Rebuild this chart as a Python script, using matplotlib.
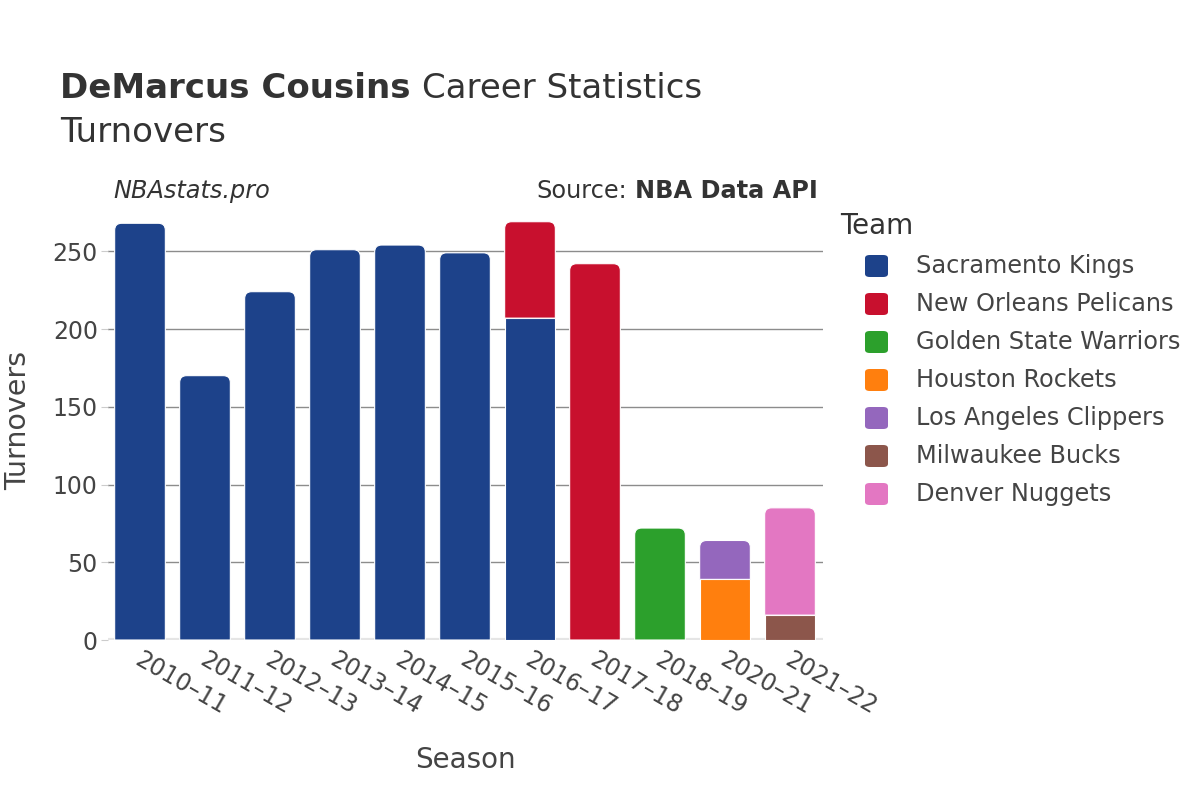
import matplotlib
matplotlib.use("Agg")
import matplotlib.pyplot as plt
from matplotlib.path import Path
from matplotlib.patches import PathPatch, FancyBboxPatch
from matplotlib.transforms import IdentityTransform
import numpy as np

seasons = ["2010–11", "2011–12", "2012–13", "2013–14", "2014–15", "2015–16",
           "2016–17", "2017–18", "2018–19", "2020–21", "2021–22"]
teams = ["Sacramento Kings", "New Orleans Pelicans", "Golden State Warriors",
         "Houston Rockets", "Los Angeles Clippers", "Milwaukee Bucks", "Denver Nuggets"]
colors = ["#1d428a", "#c8102e", "#2ca02c", "#ff7f0e", "#9467bd", "#8c564b", "#e377c2"]
values = {
    "Sacramento Kings":      [268, 170, 224, 251, 254, 249, 207, 0, 0, 0, 0],
    "New Orleans Pelicans":  [0, 0, 0, 0, 0, 0, 62, 242, 0, 0, 0],
    "Golden State Warriors": [0, 0, 0, 0, 0, 0, 0, 0, 72, 0, 0],
    "Houston Rockets":       [0, 0, 0, 0, 0, 0, 0, 0, 0, 39, 0],
    "Los Angeles Clippers":  [0, 0, 0, 0, 0, 0, 0, 0, 0, 25, 0],
    "Milwaukee Bucks":       [0, 0, 0, 0, 0, 0, 0, 0, 0, 0, 16],
    "Denver Nuggets":        [0, 0, 0, 0, 0, 0, 0, 0, 0, 0, 69],
}
yticks = [0, 50, 100, 150, 200, 250]

W, H, DPI = 1200, 800, 100
fig = plt.figure(figsize=(W / DPI, H / DPI), dpi=DPI)
fig.patch.set_facecolor("white")
renderer = fig.canvas.get_renderer()
ax = fig.add_axes([107.5 / W, 1 - 640 / H, 715 / W, 0.549])
x = np.arange(len(seasons))
totals = np.sum([values[t] for t in teams], axis=0)
ymax = totals.max() * 1.05
ax.set_xlim(-0.5, len(seasons) - 0.5)
ax.set_ylim(0, ymax)

for s in ax.spines.values():
    s.set_visible(False)
ax.set_yticks(yticks)
ax.yaxis.grid(True, color="#8c8c8c", linewidth=1)
ax.set_axisbelow(True)
ax.tick_params(axis="y", length=5, color="#cccccc", labelsize=17, labelcolor="#444444", pad=2)
ax.tick_params(axis="x", length=0, labelbottom=False)
ax.axhline(0, color="#e5e5e5", linewidth=3, zorder=1)

bw = 0.78
bottom = np.zeros(len(seasons))
segments = []
for t, c in zip(teams, colors):
    v = np.array(values[t], dtype=float)
    for i in range(len(seasons)):
        if v[i] > 0:
            segments.append((i, bottom[i], v[i], c))
    bottom += v

r = 7.0
top_idx = {}
for k, (i, b, h, c) in enumerate(segments):
    top_idx[i] = k
for k, (i, b, h, c) in enumerate(segments):
    if top_idx[i] == k:
        (x0, y0) = ax.transData.transform((i - bw / 2, b))
        (x1, y1) = ax.transData.transform((i + bw / 2, b + h))
        verts = [(x0, y0), (x0, y1 - r), (x0, y1), (x0 + r, y1),
                 (x1 - r, y1), (x1, y1), (x1, y1 - r), (x1, y0), (x0, y0)]
        codes = [Path.MOVETO, Path.LINETO, Path.CURVE3, Path.CURVE3,
                 Path.LINETO, Path.CURVE3, Path.CURVE3, Path.LINETO, Path.CLOSEPOLY]
        p = PathPatch(Path(verts, codes), facecolor=c, edgecolor="white",
                      linewidth=0.8, transform=IdentityTransform(), zorder=3)
        ax.add_artist(p)
    else:
        ax.bar(i, h, bottom=b, width=bw, color=c, edgecolor="white", linewidth=0.8, zorder=3)

for i, s in enumerate(seasons):
    ax.text(i + 0.04, -5, s, rotation=-30, rotation_mode="anchor", ha="left", va="top",
            fontsize=17, color="#444444", transform=ax.transData, clip_on=False)

fig.text(18 / W, 1 - 420 / H, "Turnovers", rotation=90, ha="center", va="center",
         fontsize=20.5, color="#444444")
fig.text(465 / W, 1 - 760 / H, "Season", ha="center", va="center", fontsize=20, color="#444444")

t1 = fig.text(60 / W, 1 - 89 / H, "DeMarcus Cousins", fontsize=24.5, fontweight="bold",
              color="#333333", ha="left", va="center")
bb = t1.get_window_extent(renderer)
fig.text((bb.x1 + 11) / W, 1 - 89 / H, "Career Statistics", fontsize=24.5, color="#333333",
         ha="left", va="center")
fig.text(60 / W, 1 - 132 / H, "Turnovers", fontsize=24.5, color="#333333", ha="left", va="center")

fig.text(113 / W, 1 - 191 / H, "NBAstats.pro", fontsize=17.3, style="italic",
         color="#333333", ha="left", va="center")
t2 = fig.text(818 / W, 1 - 191 / H, "NBA Data API", fontsize=17.3, fontweight="bold",
              color="#333333", ha="right", va="center")
bb2 = t2.get_window_extent(renderer)
fig.text((bb2.x0 - 8) / W, 1 - 191 / H, "Source:", fontsize=17.3, color="#333333",
         ha="right", va="center")

fig.text(840 / W, 1 - 226 / H, "Team", fontsize=20, color="#333333", ha="left", va="center")
for k, (t, c) in enumerate(zip(teams, colors)):
    yc = 1 - (266 + 38 * k) / H
    box = FancyBboxPatch((865 / W, yc - 11 / H), 23 / W, 22 / H,
                         boxstyle="round,pad=0,rounding_size=0.004",
                         transform=fig.transFigure, facecolor=c, edgecolor="none")
    fig.patches.append(box)
    fig.text(916 / W, yc, t, fontsize=17.3, color="#444444", ha="left", va="center")

fig.savefig("out.png", dpi=DPI, facecolor="white")
